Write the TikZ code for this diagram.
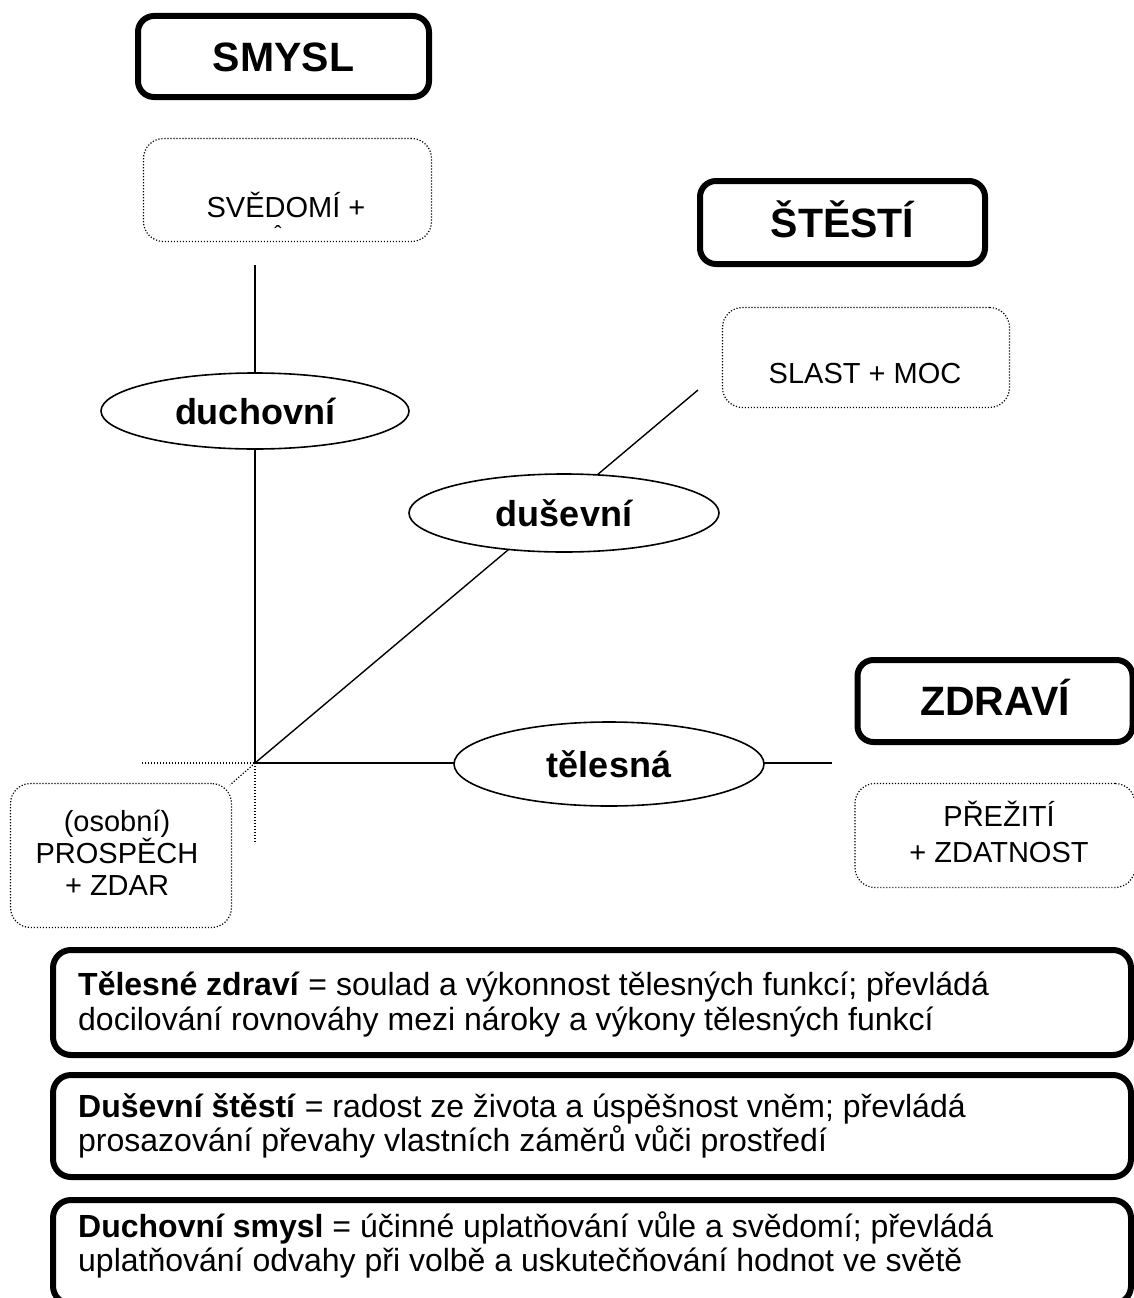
\documentclass[tikz,border=0pt]{standalone}
\usepackage{fontspec}
\setmainfont{Liberation Sans}
\usetikzlibrary{shapes.geometric,backgrounds}
\begin{document}
\begin{tikzpicture}[x=1pt,y=-1pt,
  titlebox/.style={draw, line width=6pt, rounded corners=16pt, inner sep=0pt,
    font=\fontsize{41}{45}\selectfont\bfseries, text height=29pt, text depth=0pt},
  dotbox/.style={draw, line width=1.2pt, dash pattern=on 1.2pt off 1.8pt, rounded corners=20pt, inner sep=0pt},
  oval/.style={draw, ellipse, line width=1.6pt, fill=white, inner sep=0pt,
    font=\fontsize{36}{40}\selectfont\bfseries, text height=26pt, text depth=0pt},
  conn/.style={line width=1.4pt},
  dotline/.style={line width=1.2pt, dash pattern=on 1.2pt off 1.8pt},
  smalltext/.style={font=\fontsize{29}{33}\selectfont, inner sep=0pt},
  defbox/.style={draw, line width=6pt, rounded corners=18pt, inner sep=0pt},
  deftext/.style={font=\fontsize{32}{35}\selectfont, inner sep=0pt, anchor=base west}
]
\useasboundingbox (0,0) rectangle (1134,1298);

% title boxes
\node[titlebox, minimum width=291pt, minimum height=81pt] (smysl) at (283.5,56.5) {SMYSL};
\node[titlebox, minimum width=285pt, minimum height=83pt] (stesti) at (842.5,222.5) {ŠTĚSTÍ};
\node[titlebox, minimum width=275pt, minimum height=82pt] (zdravi) at (995,701) {ZDRAVÍ};

% dotted boxes
\node[dotbox, minimum width=288pt, minimum height=103pt] (svedbox) at (287.5,190) {};
\node[smalltext, anchor=base] (svedtext) at (286,217) {SVĚDOMÍ +};
\node[font=\fontsize{22}{22}\selectfont, inner sep=0pt] (svedmark) at (278,233) {ˆ};

\node[dotbox, minimum width=287pt, minimum height=100pt] (slastbox) at (866,357.5) {};
\node[smalltext, anchor=base] (slasttext) at (865,383) {SLAST + MOC};

\node[dotbox, minimum width=221pt, minimum height=144pt] (prosbox) at (121,855.5) {};
\node[smalltext, align=center, font=\fontsize{29}{32}\selectfont] (prostext) at (117,853) {(osobní)\\PROSPĚCH\\+ ZDAR};

\node[dotbox, minimum width=280pt, minimum height=104pt] (prezbox) at (995,835.5) {};
\node[smalltext, align=center, font=\fontsize{29}{36}\selectfont] (preztext) at (999,832) {PŘEŽITÍ\\+ ZDATNOST};

% axis points
\coordinate (O) at (255,763);
\coordinate (topv) at (255,265);
\coordinate (dend) at (698,390);
\coordinate (hend) at (832,763);
\coordinate (dl) at (142,763);
\coordinate (dd) at (255,843);
\coordinate (dg) at (230,785);

% ellipses
\node[oval, minimum width=308pt, minimum height=76pt] (duch) at (255,411) {duchovní};
\node[oval, minimum width=310pt, minimum height=78pt] (dus) at (564,513) {duševní};
\node[oval, minimum width=310pt, minimum height=84pt] (tel) at (609,764) {tělesná};

\begin{scope}[on background layer]
  \draw[conn] (topv) -- (O);
  \draw[conn] (O) -- (dend);
  \draw[conn] (O) -- (hend);
  \draw[dotline] (dl) -- (O);
  \draw[dotline] (O) -- (dd);
  \draw[dotline] (O) -- (dg);
\end{scope}

% definition boxes
\node[defbox, minimum width=1078pt, minimum height=105pt] (def1) at (592,1002.5) {};
\node[deftext] (def1a) at (78,995) {\textbf{Tělesné zdraví} = soulad a výkonnost tělesných funkcí; převládá};
\node[deftext] (def1b) at (78,1030) {docilování rovnováhy mezi nároky a výkony tělesných funkcí};

\node[defbox, minimum width=1078pt, minimum height=102pt] (def2) at (592,1126) {};
\node[deftext] (def2a) at (78,1117) {\textbf{Duševní štěstí} = radost ze života a úspěšnost vněm; převládá};
\node[deftext] (def2b) at (78,1151) {prosazování převahy vlastních záměrů vůči prostředí};

\node[defbox, minimum width=1078pt, minimum height=104pt] (def3) at (592,1252) {};
\node[deftext] (def3a) at (78,1237) {\textbf{Duchovní smysl} = účinné uplatňování vůle a svědomí; převládá};
\node[deftext] (def3b) at (78,1271) {uplatňování odvahy při volbě a uskutečňování hodnot ve světě};
\end{tikzpicture}
\end{document}
